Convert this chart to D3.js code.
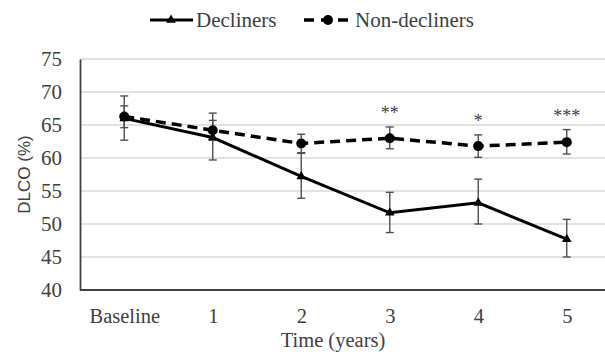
<!DOCTYPE html>
<html>
<head>
<meta charset="utf-8">
<script src="https://cdn.jsdelivr.net/npm/d3@7"></script>
<style>
  body { margin: 0; background: #fff; }
  svg { display: block; }
</style>
</head>
<body>
<div id="chart"></div>
<script>
// chart values
const categories = ["Baseline", "1", "2", "3", "4", "5"];
const yTicks = [40, 45, 50, 55, 60, 65, 70, 75];

const declinersMean = [66.0, 63.1, 57.2, 51.7, 53.2, 47.7];
const declinersLow  = [62.7, 59.7, 53.9, 48.7, 50.0, 45.0];
const declinersHigh = [69.4, 66.8, 60.7, 54.8, 56.8, 50.7];

const nonMean = [66.3, 64.2, 62.2, 63.0, 61.8, 62.4];
const nonLow  = [64.6, 62.7, 60.8, 61.4, 60.1, 60.6];
const nonHigh = [67.9, 65.7, 63.6, 64.7, 63.5, 64.3];

const stars = ["", "", "", "**", "*", "***"];

const width = 605;
const height = 362;
const margin = { top: 59, right: -6, bottom: 72, left: 80 };

const svg = d3.select("#chart")
  .append("svg")
  .attr("width", width)
  .attr("height", height);

const x = d3.scalePoint()
  .domain(categories)
  .range([margin.left, width - margin.right])
  .padding(0.5);

const y = d3.scaleLinear()
  .domain([40, 75])
  .range([height - margin.bottom, margin.top]);

const serif = "'Liberation Serif', 'Times New Roman', serif";
const textColor = "#404040";

// gridlines
svg.append("g")
  .selectAll("line")
  .data(yTicks.filter(d => d > 40))
  .join("line")
  .attr("x1", margin.left)
  .attr("x2", width)
  .attr("y1", d => y(d))
  .attr("y2", d => y(d))
  .attr("stroke", "#d9d9d9")
  .attr("stroke-width", 1.5);

// y axis
const yAxis = d3.axisLeft(y).tickValues(yTicks).tickSize(0).tickPadding(18);
const gy = svg.append("g")
  .attr("transform", `translate(${margin.left},0)`)
  .call(yAxis);
gy.select(".domain").attr("stroke", textColor).attr("stroke-width", 1.8);
gy.selectAll("text")
  .attr("font-family", serif)
  .attr("font-size", 21)
  .attr("fill", textColor);

// x axis
const xAxis = d3.axisBottom(x).tickSize(0).tickPadding(18);
const gx = svg.append("g")
  .attr("transform", `translate(0,${y(40)})`)
  .call(xAxis);
gx.select(".domain").attr("stroke", textColor).attr("stroke-width", 1.8)
  .attr("d", `M${margin.left},0H${width}`);
gx.selectAll("text")
  .attr("font-family", serif)
  .attr("font-size", 20.5)
  .attr("fill", textColor);

// axis titles
svg.append("text")
  .attr("transform", `translate(30,${(y(40) + y(75)) / 2}) rotate(-90)`)
  .attr("text-anchor", "middle")
  .attr("font-family", "'Liberation Sans', Arial, sans-serif")
  .attr("font-size", 17)
  .attr("fill", textColor)
  .text("DLCO (%)");

svg.append("text")
  .attr("x", 333)
  .attr("y", 347)
  .attr("text-anchor", "middle")
  .attr("font-family", serif)
  .attr("font-size", 20.5)
  .attr("fill", textColor)
  .text("Time (years)");

// error bars
function errorBars(low, high) {
  const g = svg.append("g")
    .attr("stroke", "#505050")
    .attr("stroke-width", 1.4);
  categories.forEach((c, i) => {
    const cx = x(c);
    g.append("line").attr("x1", cx).attr("x2", cx).attr("y1", y(low[i])).attr("y2", y(high[i]));
    g.append("line").attr("x1", cx - 4).attr("x2", cx + 4).attr("y1", y(low[i])).attr("y2", y(low[i]));
    g.append("line").attr("x1", cx - 4).attr("x2", cx + 4).attr("y1", y(high[i])).attr("y2", y(high[i]));
  });
}
errorBars(declinersLow, declinersHigh);
errorBars(nonLow, nonHigh);

const line = d3.line()
  .x((d, i) => x(categories[i]))
  .y(d => y(d));

// non-decliners
svg.append("path")
  .datum(nonMean)
  .attr("d", line)
  .attr("fill", "none")
  .attr("stroke", "#000")
  .attr("stroke-width", 3.5)
  .attr("stroke-dasharray", "10,6");

svg.append("g")
  .selectAll("circle")
  .data(nonMean)
  .join("circle")
  .attr("cx", (d, i) => x(categories[i]))
  .attr("cy", d => y(d))
  .attr("r", 5)
  .attr("fill", "#000");

// decliners
svg.append("path")
  .datum(declinersMean)
  .attr("d", line)
  .attr("fill", "none")
  .attr("stroke", "#000")
  .attr("stroke-width", 3);

const tri = d3.symbol().type(d3.symbolTriangle).size(40);
svg.append("g")
  .selectAll("path")
  .data(declinersMean)
  .join("path")
  .attr("d", tri)
  .attr("transform", (d, i) => `translate(${x(categories[i])},${y(d)})`)
  .attr("fill", "#000");

// significance stars
svg.append("g")
  .selectAll("text")
  .data(stars)
  .join("text")
  .attr("x", (d, i) => x(categories[i]))
  .attr("y", (d, i) => y(nonHigh[i]) - 8)
  .attr("text-anchor", "middle")
  .attr("font-family", serif)
  .attr("font-size", 18)
  .attr("fill", textColor)
  .text(d => d);

// legend
const legend = svg.append("g").attr("transform", "translate(0,20)");
legend.append("line")
  .attr("x1", 150).attr("x2", 193).attr("y1", 0).attr("y2", 0)
  .attr("stroke", "#000").attr("stroke-width", 3);
legend.append("path")
  .attr("d", tri)
  .attr("transform", "translate(171,0)")
  .attr("fill", "#000");
legend.append("text")
  .attr("x", 196).attr("y", 7)
  .attr("font-family", serif).attr("font-size", 21).attr("fill", textColor)
  .text("Decliners");

legend.append("line")
  .attr("x1", 304).attr("x2", 350).attr("y1", 0).attr("y2", 0)
  .attr("stroke", "#000").attr("stroke-width", 3.5)
  .attr("stroke-dasharray", "10,7");
legend.append("circle")
  .attr("cx", 328).attr("cy", 0).attr("r", 5).attr("fill", "#000");
legend.append("text")
  .attr("x", 355).attr("y", 7)
  .attr("font-family", serif).attr("font-size", 21).attr("fill", textColor)
  .text("Non-decliners");
</script>
</body>
</html>
